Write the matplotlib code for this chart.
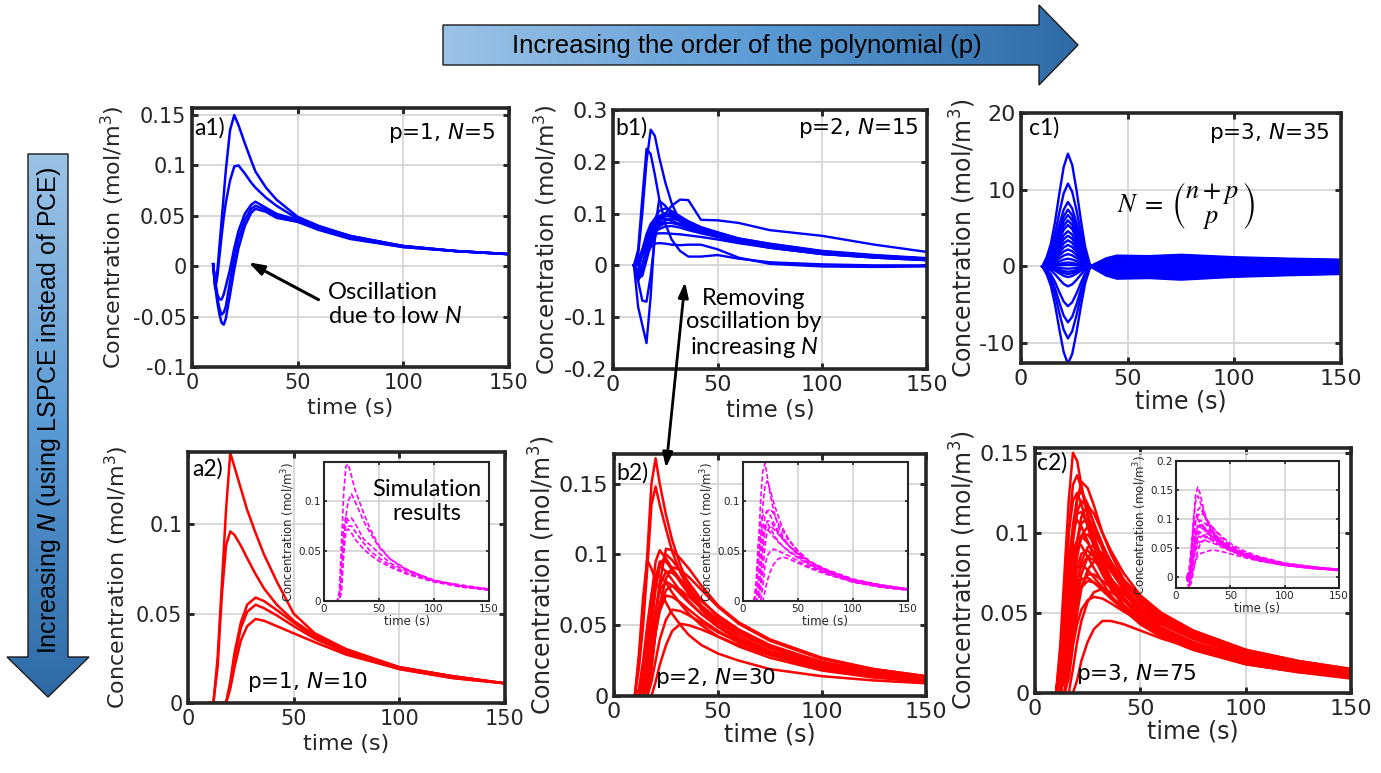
import numpy as np
import matplotlib
matplotlib.use('Agg')
import matplotlib.pyplot as plt
from matplotlib.patches import Polygon
from matplotlib.colors import LinearSegmentedColormap
from matplotlib.ticker import FormatStrFormatter

plt.rcParams['font.family'] = 'DejaVu Sans'
plt.rcParams['axes.unicode_minus'] = False
plt.rcParams['mathtext.fontset'] = 'dejavusans'
plt.rcParams['mathtext.rm'] = 'Lato'
plt.rcParams['mathtext.it'] = 'Lato:italic'

# ---------------- data ----------------
# a1: p=1, N=5 (PCE), time grid and 5 curves
a1_time = [10, 11, 12, 13, 14, 15, 16, 18, 20, 22, 25, 28, 30, 35, 40, 50, 60, 75, 100, 125, 150]
a1_conc = [
    [0.002, -0.022, -0.005, 0.02, 0.045, 0.07, 0.095, 0.135, 0.15, 0.14, 0.122, 0.105, 0.094, 0.078, 0.066, 0.049, 0.04, 0.03, 0.02, 0.015, 0.012],
    [0.002, -0.022, -0.01, 0.01, 0.03, 0.048, 0.063, 0.085, 0.099, 0.1, 0.092, 0.083, 0.078, 0.068, 0.06, 0.047, 0.039, 0.03, 0.02, 0.015, 0.012],
    [0.002, -0.015, -0.028, -0.033, -0.033, -0.028, -0.02, -0.003, 0.018, 0.035, 0.052, 0.061, 0.064, 0.058, 0.052, 0.046, 0.038, 0.029, 0.02, 0.015, 0.012],
    [0.002, -0.017, -0.032, -0.042, -0.048, -0.046, -0.04, -0.015, 0.008, 0.027, 0.046, 0.057, 0.06, 0.056, 0.05, 0.045, 0.037, 0.028, 0.019, 0.015, 0.012],
    [0.002, -0.02, -0.036, -0.048, -0.056, -0.058, -0.052, -0.028, -0.003, 0.018, 0.04, 0.053, 0.057, 0.054, 0.048, 0.044, 0.036, 0.027, 0.019, 0.015, 0.012],
]

# common grid for b1, a2, b2, c2 and the insets
grid_time = [10, 12, 14, 16, 18, 20, 22, 25, 28, 32, 36, 42, 50, 60, 75, 100, 125, 150]

# b1: p=2, N=15 (PCE)
b1_conc = [
    [0, 0.02, 0.1, 0.2, 0.262, 0.25, 0.21, 0.16, 0.12, 0.085, 0.072, 0.065, 0.056, 0.046, 0.036, 0.023, 0.016, 0.012],
    [0, 0.03, 0.13, 0.225, 0.215, 0.175, 0.13, 0.08, 0.05, 0.028, 0.017, 0.017, 0.02, 0.013, 0.006, 0.002, 0.0, 0.0],
    [0, -0.08, -0.115, -0.15, -0.06, 0.07, 0.125, 0.115, 0.1, 0.086, 0.076, 0.066, 0.056, 0.046, 0.035, 0.022, 0.016, 0.011],
    [0, -0.03, -0.068, -0.07, -0.02, 0.05, 0.09, 0.1, 0.095, 0.086, 0.077, 0.067, 0.057, 0.047, 0.037, 0.024, 0.017, 0.012],
    [0, -0.01, 0.0, 0.02, 0.04, 0.06, 0.08, 0.1, 0.115, 0.127, 0.126, 0.088, 0.087, 0.082, 0.068, 0.057, 0.04, 0.026],
    [0, -0.02, 0.0, 0.02, 0.035, 0.042, 0.043, 0.042, 0.04, 0.039, 0.04, 0.04, 0.031, 0.015, 0.003, -0.002, -0.003, -0.002],
    [0, -0.03, -0.01, 0.03, 0.06, 0.08, 0.095, 0.1, 0.097, 0.09, 0.082, 0.072, 0.062, 0.05, 0.04, 0.026, 0.018, 0.013],
    [0, -0.02, 0.0, 0.03, 0.055, 0.075, 0.088, 0.095, 0.094, 0.088, 0.081, 0.072, 0.063, 0.052, 0.042, 0.028, 0.02, 0.014],
    [0, 0.01, 0.03, 0.05, 0.07, 0.085, 0.095, 0.1, 0.1, 0.093, 0.085, 0.074, 0.064, 0.052, 0.041, 0.027, 0.019, 0.013],
    [0, -0.01, 0.02, 0.045, 0.07, 0.09, 0.105, 0.11, 0.105, 0.095, 0.085, 0.073, 0.062, 0.05, 0.04, 0.026, 0.018, 0.013],
    [0, -0.02, -0.01, 0.02, 0.045, 0.065, 0.078, 0.087, 0.09, 0.087, 0.08, 0.07, 0.06, 0.049, 0.038, 0.025, 0.017, 0.012],
    [0, 0.0, 0.02, 0.04, 0.055, 0.065, 0.07, 0.075, 0.076, 0.073, 0.068, 0.062, 0.055, 0.046, 0.036, 0.024, 0.017, 0.012],
    [0, -0.015, 0.0, 0.03, 0.05, 0.06, 0.062, 0.062, 0.061, 0.06, 0.058, 0.055, 0.05, 0.043, 0.034, 0.022, 0.015, 0.01],
    [0, 0.005, 0.03, 0.06, 0.08, 0.09, 0.092, 0.09, 0.086, 0.08, 0.074, 0.066, 0.058, 0.048, 0.038, 0.025, 0.017, 0.012],
    [0, -0.025, -0.02, 0.01, 0.04, 0.06, 0.075, 0.082, 0.082, 0.078, 0.072, 0.064, 0.055, 0.045, 0.034, 0.022, 0.015, 0.01],
]

# c1: p=3, N=35 (PCE) - curves share one time profile, peak and tail level per curve
c1_time = [10, 12, 14, 16, 18, 20, 22, 24, 26, 28, 30, 32.5, 36, 40, 45, 60, 75, 100, 125, 150]
c1_rise_shape = [0, 0.08, 0.2, 0.4, 0.65, 0.88, 1.0, 0.9, 0.68, 0.42, 0.18, 0, 0, 0, 0, 0, 0, 0, 0, 0]
c1_tail_shape = [0, 0, 0, 0, 0, 0, 0, 0, 0, 0, 0, 0, 0.35, 0.75, 1.0, 0.95, 1.08, 0.85, 0.72, 0.62]
c1_peak = [14.7, 10.8, 8.4, 7.4, 6.7, 6.0, 5.4, 4.6, 4.0, 3.4, 2.8, 2.2, 1.6, 1.0, 0.5,
           0.2, -0.3, -0.7, -1.0, -1.4, -2.6, -5.2, -7.3, -9.4, -12.7]
c1_tail = [1.4, -1.6, 1.2, -1.3, 1.0, -1.0, 0.8, -0.8, 0.6, -0.6, 0.45, -0.45, 0.3,
           -0.3, 0.15, -0.15, 0.05, -0.05, 1.3, -1.5, 0.9, -1.1, 0.7, -0.7, 0.2]

# a2: p=1, N=10 (LSPCE)
a2_conc = [
    [0, 0, 0.025, 0.066, 0.108, 0.14, 0.132, 0.12, 0.108, 0.095, 0.083, 0.068, 0.05, 0.039, 0.03, 0.02, 0.015, 0.011],
    [0, 0, 0.02, 0.06, 0.088, 0.096, 0.094, 0.088, 0.081, 0.072, 0.064, 0.055, 0.046, 0.038, 0.03, 0.02, 0.015, 0.011],
    [0, 0, 0, 0, 0, 0.012, 0.028, 0.045, 0.055, 0.059, 0.057, 0.052, 0.045, 0.037, 0.029, 0.02, 0.015, 0.011],
    [0, 0, 0, 0, 0, 0.01, 0.025, 0.042, 0.051, 0.055, 0.053, 0.049, 0.043, 0.036, 0.028, 0.019, 0.014, 0.011],
    [0, 0, 0, 0, 0, 0.008, 0.02, 0.035, 0.043, 0.047, 0.046, 0.043, 0.039, 0.034, 0.027, 0.019, 0.014, 0.011],
]
a2_sim = [
    [0, 0, 0.01, 0.06, 0.11, 0.135, 0.137, 0.125, 0.112, 0.1, 0.088, 0.072, 0.055, 0.042, 0.032, 0.02, 0.016, 0.012],
    [0, 0, 0, 0.01, 0.05, 0.085, 0.1, 0.107, 0.1, 0.09, 0.08, 0.068, 0.054, 0.042, 0.031, 0.021, 0.015, 0.012],
    [0, 0, 0.005, 0.04, 0.075, 0.085, 0.08, 0.083, 0.078, 0.07, 0.062, 0.056, 0.048, 0.038, 0.03, 0.02, 0.015, 0.011],
    [0, 0, 0, 0.03, 0.065, 0.08, 0.075, 0.075, 0.07, 0.064, 0.058, 0.05, 0.043, 0.036, 0.028, 0.02, 0.014, 0.011],
    [0, 0, 0, 0.02, 0.05, 0.07, 0.072, 0.068, 0.062, 0.057, 0.052, 0.046, 0.04, 0.034, 0.027, 0.019, 0.014, 0.011],
]

# b2: p=2, N=30 (LSPCE)
b2_conc = [
    [0, 0.025, 0.06, 0.1, 0.15, 0.168, 0.15, 0.128, 0.11, 0.092, 0.078, 0.063, 0.05, 0.04, 0.03, 0.02, 0.015, 0.011],
    [0, 0.02, 0.05, 0.09, 0.135, 0.148, 0.135, 0.118, 0.102, 0.087, 0.075, 0.061, 0.049, 0.039, 0.029, 0.019, 0.014, 0.011],
    [0, 0.03, 0.07, 0.096, 0.09, 0.082, 0.075, 0.066, 0.058, 0.05, 0.043, 0.036, 0.03, 0.025, 0.019, 0.014, 0.011, 0.009],
    [0, 0, 0.015, 0.04, 0.07, 0.095, 0.103, 0.097, 0.09, 0.082, 0.074, 0.064, 0.054, 0.044, 0.034, 0.023, 0.017, 0.013],
    [0, 0, 0, 0.01, 0.03, 0.055, 0.08, 0.104, 0.103, 0.097, 0.09, 0.078, 0.064, 0.052, 0.04, 0.027, 0.019, 0.014],
    [0, 0, 0.005, 0.025, 0.05, 0.075, 0.092, 0.1, 0.096, 0.088, 0.08, 0.068, 0.056, 0.046, 0.035, 0.024, 0.017, 0.013],
    [0, 0, 0, 0, 0.02, 0.045, 0.065, 0.083, 0.091, 0.089, 0.084, 0.075, 0.063, 0.051, 0.039, 0.026, 0.019, 0.014],
    [0, 0, 0, 0.015, 0.04, 0.06, 0.075, 0.081, 0.078, 0.072, 0.066, 0.058, 0.049, 0.04, 0.031, 0.021, 0.016, 0.012],
    [0, 0, 0, 0.005, 0.025, 0.045, 0.06, 0.071, 0.07, 0.066, 0.061, 0.054, 0.046, 0.038, 0.03, 0.02, 0.015, 0.011],
    [0, 0, 0, 0, 0.01, 0.025, 0.04, 0.054, 0.061, 0.06, 0.057, 0.052, 0.045, 0.038, 0.03, 0.02, 0.015, 0.011],
    [0, 0, 0, 0, 0, 0.01, 0.022, 0.036, 0.046, 0.051, 0.05, 0.047, 0.042, 0.036, 0.029, 0.02, 0.015, 0.011],
    [0, 0, 0.01, 0.035, 0.065, 0.085, 0.092, 0.088, 0.082, 0.074, 0.067, 0.058, 0.049, 0.04, 0.031, 0.021, 0.016, 0.012],
    [0, 0, 0.01, 0.03, 0.06, 0.082, 0.095, 0.095, 0.089, 0.08, 0.072, 0.062, 0.052, 0.042, 0.032, 0.022, 0.016, 0.012],
    [0, 0, 0, 0.01, 0.035, 0.06, 0.078, 0.088, 0.087, 0.082, 0.076, 0.067, 0.057, 0.047, 0.036, 0.024, 0.018, 0.013],
    [0, 0, 0, 0, 0.02, 0.045, 0.062, 0.075, 0.078, 0.075, 0.07, 0.062, 0.053, 0.044, 0.034, 0.023, 0.017, 0.013],
    [0, 0.005, 0.025, 0.05, 0.072, 0.083, 0.085, 0.08, 0.073, 0.065, 0.058, 0.05, 0.042, 0.035, 0.027, 0.018, 0.013, 0.01],
]
b2_sim = [
    [0, 0.01, 0.05, 0.1, 0.13, 0.138, 0.125, 0.105, 0.09, 0.075, 0.065, 0.055, 0.046, 0.037, 0.029, 0.02, 0.015, 0.012],
    [0, 0, 0.02, 0.06, 0.095, 0.115, 0.12, 0.11, 0.098, 0.085, 0.073, 0.061, 0.05, 0.04, 0.031, 0.021, 0.016, 0.012],
    [0, 0.02, 0.06, 0.08, 0.085, 0.088, 0.09, 0.092, 0.087, 0.078, 0.07, 0.06, 0.05, 0.04, 0.031, 0.021, 0.016, 0.012],
    [0, 0, 0.01, 0.04, 0.07, 0.085, 0.09, 0.085, 0.078, 0.07, 0.063, 0.055, 0.047, 0.039, 0.03, 0.021, 0.015, 0.012],
    [0, 0, 0, 0.02, 0.05, 0.07, 0.08, 0.08, 0.075, 0.068, 0.062, 0.055, 0.047, 0.039, 0.031, 0.021, 0.016, 0.012],
    [0, 0.01, 0.04, 0.065, 0.075, 0.075, 0.072, 0.068, 0.064, 0.059, 0.055, 0.049, 0.043, 0.036, 0.028, 0.019, 0.014, 0.011],
    [0, 0, 0, 0, 0.015, 0.035, 0.045, 0.05, 0.052, 0.05, 0.048, 0.045, 0.04, 0.034, 0.028, 0.019, 0.014, 0.011],
    [0, 0, 0, 0, 0, 0.01, 0.02, 0.03, 0.037, 0.042, 0.044, 0.042, 0.038, 0.033, 0.027, 0.019, 0.014, 0.011],
    [0, 0, 0.005, 0.03, 0.06, 0.075, 0.078, 0.073, 0.066, 0.06, 0.055, 0.05, 0.044, 0.037, 0.03, 0.02, 0.015, 0.011],
    [0, 0, 0, 0.01, 0.03, 0.055, 0.07, 0.075, 0.072, 0.067, 0.062, 0.055, 0.048, 0.04, 0.032, 0.022, 0.016, 0.012],
]

# c2: p=3, N=75 (LSPCE)
c2_conc = [
    [0, 0.03, 0.075, 0.12, 0.15, 0.145, 0.13, 0.11, 0.095, 0.08, 0.068, 0.055, 0.044, 0.036, 0.028, 0.019, 0.014, 0.01],
    [0, 0.02, 0.06, 0.1, 0.13, 0.136, 0.128, 0.112, 0.098, 0.083, 0.071, 0.058, 0.046, 0.037, 0.029, 0.02, 0.015, 0.011],
    [0, 0, 0.02, 0.06, 0.095, 0.12, 0.132, 0.128, 0.117, 0.1, 0.087, 0.071, 0.056, 0.045, 0.035, 0.024, 0.018, 0.014],
    [0, 0.01, 0.04, 0.075, 0.105, 0.122, 0.126, 0.118, 0.105, 0.09, 0.078, 0.064, 0.051, 0.041, 0.032, 0.022, 0.016, 0.012],
    [0, 0, 0.03, 0.065, 0.095, 0.113, 0.12, 0.116, 0.106, 0.093, 0.081, 0.067, 0.054, 0.044, 0.034, 0.023, 0.017, 0.013],
    [0, 0.015, 0.045, 0.08, 0.1, 0.112, 0.113, 0.105, 0.095, 0.083, 0.072, 0.06, 0.048, 0.039, 0.03, 0.021, 0.015, 0.011],
    [0, 0, 0.015, 0.045, 0.075, 0.095, 0.106, 0.109, 0.103, 0.092, 0.082, 0.069, 0.057, 0.046, 0.036, 0.025, 0.018, 0.014],
    [0, 0, 0.01, 0.035, 0.065, 0.085, 0.098, 0.104, 0.1, 0.091, 0.082, 0.07, 0.058, 0.047, 0.037, 0.025, 0.019, 0.014],
    [0, 0, 0.02, 0.05, 0.075, 0.09, 0.097, 0.099, 0.094, 0.085, 0.076, 0.065, 0.054, 0.044, 0.035, 0.024, 0.018, 0.013],
    [0, 0.02, 0.05, 0.075, 0.09, 0.095, 0.092, 0.085, 0.078, 0.069, 0.061, 0.052, 0.043, 0.035, 0.027, 0.018, 0.013, 0.01],
    [0, 0, 0.01, 0.035, 0.06, 0.078, 0.087, 0.089, 0.085, 0.078, 0.071, 0.062, 0.052, 0.043, 0.034, 0.024, 0.018, 0.013],
    [0, 0, 0, 0.015, 0.04, 0.06, 0.074, 0.085, 0.088, 0.085, 0.08, 0.071, 0.06, 0.05, 0.039, 0.027, 0.02, 0.015],
    [0, 0, 0.01, 0.03, 0.055, 0.07, 0.08, 0.085, 0.083, 0.077, 0.071, 0.063, 0.054, 0.045, 0.035, 0.024, 0.018, 0.013],
    [0, 0.005, 0.03, 0.055, 0.07, 0.078, 0.08, 0.077, 0.072, 0.066, 0.06, 0.053, 0.045, 0.037, 0.029, 0.02, 0.015, 0.011],
    [0, 0, 0, 0.02, 0.04, 0.057, 0.067, 0.074, 0.074, 0.07, 0.066, 0.059, 0.051, 0.043, 0.034, 0.023, 0.017, 0.013],
    [0, 0, 0.01, 0.03, 0.048, 0.06, 0.066, 0.07, 0.069, 0.065, 0.06, 0.054, 0.047, 0.039, 0.031, 0.021, 0.016, 0.012],
    [0, 0, 0, 0, 0.015, 0.032, 0.045, 0.057, 0.063, 0.065, 0.063, 0.058, 0.051, 0.043, 0.034, 0.024, 0.018, 0.013],
    [0, 0, 0, 0.01, 0.03, 0.043, 0.052, 0.058, 0.06, 0.059, 0.056, 0.051, 0.045, 0.038, 0.03, 0.021, 0.016, 0.012],
    [0, 0, 0, 0, 0, 0.008, 0.02, 0.032, 0.04, 0.045, 0.045, 0.043, 0.039, 0.034, 0.028, 0.019, 0.014, 0.01],
    [0, 0.025, 0.065, 0.1, 0.12, 0.125, 0.118, 0.104, 0.091, 0.077, 0.066, 0.054, 0.043, 0.035, 0.027, 0.018, 0.013, 0.009],
    [0, 0, 0.01, 0.04, 0.07, 0.095, 0.11, 0.117, 0.112, 0.1, 0.089, 0.075, 0.061, 0.05, 0.039, 0.027, 0.02, 0.015],
    [0, 0.01, 0.035, 0.065, 0.085, 0.095, 0.098, 0.094, 0.087, 0.078, 0.069, 0.059, 0.049, 0.04, 0.031, 0.021, 0.016, 0.012],
    [0, 0, 0, 0.02, 0.045, 0.068, 0.082, 0.091, 0.092, 0.087, 0.08, 0.07, 0.059, 0.048, 0.038, 0.026, 0.019, 0.014],
    [0, 0, 0.015, 0.04, 0.057, 0.066, 0.071, 0.072, 0.069, 0.064, 0.059, 0.052, 0.045, 0.038, 0.03, 0.021, 0.015, 0.011],
    [0, 0.02, 0.055, 0.085, 0.102, 0.108, 0.104, 0.095, 0.085, 0.074, 0.065, 0.055, 0.045, 0.037, 0.029, 0.02, 0.015, 0.011],
    [0, 0, 0, 0.01, 0.03, 0.05, 0.065, 0.077, 0.082, 0.081, 0.077, 0.069, 0.059, 0.049, 0.038, 0.026, 0.019, 0.014],
]
c2_sim = [
    [0, -0.01, 0.03, 0.09, 0.14, 0.155, 0.145, 0.12, 0.1, 0.082, 0.07, 0.058, 0.048, 0.038, 0.029, 0.02, 0.015, 0.012],
    [0, 0.0, 0.04, 0.1, 0.13, 0.14, 0.13, 0.115, 0.1, 0.085, 0.073, 0.06, 0.05, 0.04, 0.03, 0.021, 0.016, 0.012],
    [0, -0.02, 0.02, 0.06, 0.095, 0.115, 0.12, 0.11, 0.098, 0.085, 0.074, 0.062, 0.051, 0.041, 0.031, 0.021, 0.016, 0.012],
    [0, 0.01, 0.05, 0.085, 0.1, 0.1, 0.095, 0.088, 0.08, 0.072, 0.065, 0.056, 0.047, 0.039, 0.03, 0.021, 0.015, 0.012],
    [0, -0.01, 0.01, 0.04, 0.07, 0.09, 0.098, 0.095, 0.09, 0.08, 0.072, 0.062, 0.052, 0.042, 0.032, 0.022, 0.016, 0.012],
    [0, 0, 0.03, 0.06, 0.08, 0.088, 0.088, 0.083, 0.077, 0.07, 0.064, 0.056, 0.048, 0.04, 0.031, 0.021, 0.016, 0.012],
    [0, -0.015, 0, 0.03, 0.055, 0.07, 0.08, 0.085, 0.083, 0.077, 0.07, 0.061, 0.052, 0.043, 0.033, 0.022, 0.017, 0.013],
    [0, 0.005, 0.03, 0.055, 0.07, 0.076, 0.077, 0.074, 0.07, 0.065, 0.06, 0.053, 0.046, 0.038, 0.03, 0.021, 0.015, 0.012],
    [0, -0.02, -0.01, 0.01, 0.03, 0.045, 0.055, 0.062, 0.066, 0.067, 0.065, 0.058, 0.05, 0.042, 0.033, 0.022, 0.016, 0.012],
    [0, 0, 0.01, 0.03, 0.045, 0.055, 0.06, 0.063, 0.062, 0.06, 0.057, 0.052, 0.045, 0.038, 0.03, 0.021, 0.015, 0.012],
    [0, -0.01, 0, 0.015, 0.028, 0.036, 0.04, 0.042, 0.044, 0.046, 0.046, 0.044, 0.04, 0.035, 0.028, 0.02, 0.015, 0.011],
    [0, 0.01, 0.04, 0.075, 0.095, 0.105, 0.11, 0.108, 0.1, 0.09, 0.08, 0.067, 0.055, 0.044, 0.034, 0.023, 0.017, 0.013],
    [0, 0, 0.02, 0.05, 0.07, 0.08, 0.085, 0.09, 0.092, 0.088, 0.081, 0.07, 0.058, 0.047, 0.036, 0.024, 0.018, 0.013],
    [0, -0.005, 0.02, 0.045, 0.06, 0.068, 0.07, 0.07, 0.068, 0.064, 0.06, 0.054, 0.047, 0.039, 0.031, 0.021, 0.016, 0.012],
    [0, 0, 0.015, 0.04, 0.065, 0.082, 0.09, 0.088, 0.081, 0.073, 0.066, 0.058, 0.049, 0.041, 0.032, 0.022, 0.016, 0.012],
    [0, -0.01, 0.005, 0.03, 0.05, 0.06, 0.067, 0.072, 0.075, 0.073, 0.069, 0.061, 0.052, 0.043, 0.034, 0.023, 0.017, 0.013],
]

# ---------------- figure ----------------
W, H = 1381, 773
fig = plt.figure(figsize=(W / 100, H / 100), dpi=100)

DARK = '#262626'


def add_box(x0, y0, x1, y1):
    # axes placed by its pixel box in the reference picture
    return fig.add_axes([x0 / W, 1 - y1 / H, (x1 - x0) / W, (y1 - y0) / H])


def style(ax, ylim, yticks, tick_fs, label_fs, spine_w=2.6, tick_len=4, pad=4, labelpad=4):
    ax.set_xlim(0, 150)
    ax.set_ylim(*ylim)
    ax.set_xticks([0, 50, 100, 150])
    ax.set_yticks(yticks)
    ax.yaxis.set_major_formatter(FormatStrFormatter('%g'))
    ax.grid(True, color='#d6d6d6', lw=1.3)
    ax.set_axisbelow(True)
    ax.tick_params(direction='in', top=True, right=True, length=tick_len, width=spine_w * 0.8,
                   labelsize=tick_fs, colors=DARK, pad=pad)
    for s in ax.spines.values():
        s.set_linewidth(spine_w)
        s.set_color(DARK)
    ax.set_xlabel('time (s)', fontsize=label_fs, color=DARK, labelpad=labelpad)
    ax.set_ylabel('Concentration (mol/m$^3$)', fontsize=label_fs, color=DARK, labelpad=labelpad)


def inset(x0, y0, x1, y1, ylim, yticks, curves):
    ax = add_box(x0, y0, x1, y1)
    style(ax, ylim, yticks, 7.5, 8.5, spine_w=1.5, tick_len=2.5, pad=2, labelpad=1)
    for c in curves:
        ax.plot(grid_time, c, color='magenta', lw=1.2, ls=(0, (3, 1.5)))
    return ax


# a1
ax = add_box(192, 108, 509, 367)
style(ax, (-0.1, 0.157), [-0.1, -0.05, 0, 0.05, 0.1, 0.15], 15, 16)
for c in a1_conc:
    ax.plot(a1_time, c, color='blue', lw=1.8)
ax.text(1.1, 0.137, 'a1)', family='Lato', fontsize=16.5, va='center')
ax.text(143.4, 0.132, 'p=1, $N$=5', fontsize=15.5, ha='right', va='center')
ax.text(64.4, -0.038, 'Oscillation\ndue to low $N$', family='Lato', fontsize=17,
        va='center', linespacing=1.15, math_fontfamily='custom')

# b1
ax = add_box(613, 110, 927, 369)
style(ax, (-0.2, 0.3), [-0.2, -0.1, 0, 0.1, 0.2, 0.3], 16, 16.5, labelpad=3)
for c in b1_conc:
    ax.plot(grid_time, c, color='blue', lw=1.7)
ax.text(1.0, 0.265, 'b1)', family='Lato', fontsize=16.5, va='center')
ax.text(145.9, 0.266, 'p=2, $N$=15', fontsize=15.5, ha='right', va='center')
ax.text(67.4, -0.113, 'Removing\noscillation by\nincreasing $N$', family='Lato', fontsize=17,
        ha='center', va='center', linespacing=1.15, math_fontfamily='custom')

# c1
ax = add_box(1021, 113, 1341, 363)
style(ax, (-12.6, 20), [-10, 0, 10, 20], 16, 17, labelpad=1)
for peak, tail in zip(c1_peak, c1_tail):
    ax.plot(c1_time, np.array(c1_rise_shape) * peak + np.array(c1_tail_shape) * tail,
            color='blue', lw=1.7)
ax.text(3.75, 18.05, 'c1)', family='Lato', fontsize=16.5, va='center')
ax.text(144.9, 17.4, 'p=3, $N$=35', fontsize=15.5, ha='right', va='center')
ax.text(45, 8.0, r'$N\;=\;\genfrac{(}{)}{0}{0}{n+p}{p}$', fontsize=19, va='center',
        math_fontfamily='stix')

# a2
ax = add_box(188, 452, 505, 703)
style(ax, (0, 0.1404), [0, 0.05, 0.1], 15, 16)
for c in a2_conc:
    ax.plot(grid_time, c, color='red', lw=1.8)
ax.text(2.2, 0.131, 'a2)', family='Lato', fontsize=16.5, va='center')
ax.text(27.9, 0.0118, 'p=1, $N$=10', fontsize=15.5, va='center')
ia = inset(324, 462, 489, 601, (0, 0.139), [0, 0.05, 0.1], a2_sim)
ia.text(93.6, 0.0995, 'Simulation\nresults', family='Lato', fontsize=17, ha='center',
        va='center', linespacing=1.15)

# b2
ax = add_box(614, 454, 926, 696)
style(ax, (0, 0.171), [0, 0.05, 0.1, 0.15], 16, 17, labelpad=1)
for c in b2_conc:
    ax.plot(grid_time, c, color='red', lw=1.8)
ax.text(1.3, 0.158, 'b2)', family='Lato', fontsize=16.5, va='center')
ax.text(19.7, 0.0127, 'p=2, $N$=30', fontsize=15.5, va='center')
inset(743, 462, 908, 601, (0, 0.139), [0, 0.05, 0.1], b2_sim)

# c2
ax = add_box(1035, 448, 1351, 693)
style(ax, (0, 0.153), [0, 0.05, 0.1, 0.15], 16, 17, labelpad=1)
for c in c2_conc:
    ax.plot(grid_time, c, color='red', lw=1.8)
ax.text(0.8, 0.1436, 'c2)', family='Lato', fontsize=16.5, va='center')
ax.text(19.5, 0.0119, 'p=3, $N$=75', fontsize=15.5, va='center')
inset(1176, 461, 1339, 588, (-0.019, 0.2), [0, 0.05, 0.1, 0.15, 0.2], c2_sim)

# ---------------- overlay: arrows and their labels ----------------
ov = fig.add_axes([0, 0, 1, 1], zorder=10)
ov.set_xlim(0, W)
ov.set_ylim(H, 0)
ov.axis('off')
ov.patch.set_alpha(0)

blues = LinearSegmentedColormap.from_list('arrow', ['#9DC3E6', '#5B9BD5', '#2E6BA6'])

top_arrow = Polygon([(443, 25), (1039, 25), (1039, 5), (1078, 45), (1039, 85), (1039, 65), (443, 65)],
                    closed=True, facecolor='none', edgecolor='#1a1a1a', lw=1.0, zorder=3)
ov.add_patch(top_arrow)
im = ov.imshow(np.linspace(0, 1, 256).reshape(1, -1), cmap=blues, aspect='auto',
               extent=(443, 1078, 85, 5), zorder=2)
im.set_clip_path(top_arrow)
ov.text(747, 46, 'Increasing the order of the polynomial (p)',
        family=['Liberation Sans Narrow', 'Liberation Sans'], fontsize=18.5, ha='center', va='center', zorder=4)

left_arrow = Polygon([(28, 154), (68, 154), (68, 657), (89, 657), (48, 697), (7, 657), (28, 657)],
                     closed=True, facecolor='none', edgecolor='#1a1a1a', lw=1.0, zorder=3)
ov.add_patch(left_arrow)
im2 = ov.imshow(np.linspace(0, 1, 256).reshape(-1, 1), cmap=blues, aspect='auto',
                extent=(7, 89, 697, 154), zorder=2)
im2.set_clip_path(left_arrow)
ov.text(49, 410, 'Increasing $N$ (using LSPCE instead of PCE)', family='Liberation Sans',
        fontsize=18, rotation=90, ha='center', va='center', zorder=4)

ov.set_xlim(0, W)
ov.set_ylim(H, 0)

ov.annotate('', xy=(246, 261), xytext=(321, 301),
            arrowprops=dict(arrowstyle='-|>,head_length=0.9,head_width=0.3', color='k', lw=2.2))
ov.annotate('', xy=(685, 282), xytext=(666, 468),
            arrowprops=dict(arrowstyle='<|-|>,head_length=0.9,head_width=0.3', color='k', lw=2.0,
                            shrinkA=0, shrinkB=0))

fig.savefig('out.png', dpi=100)
